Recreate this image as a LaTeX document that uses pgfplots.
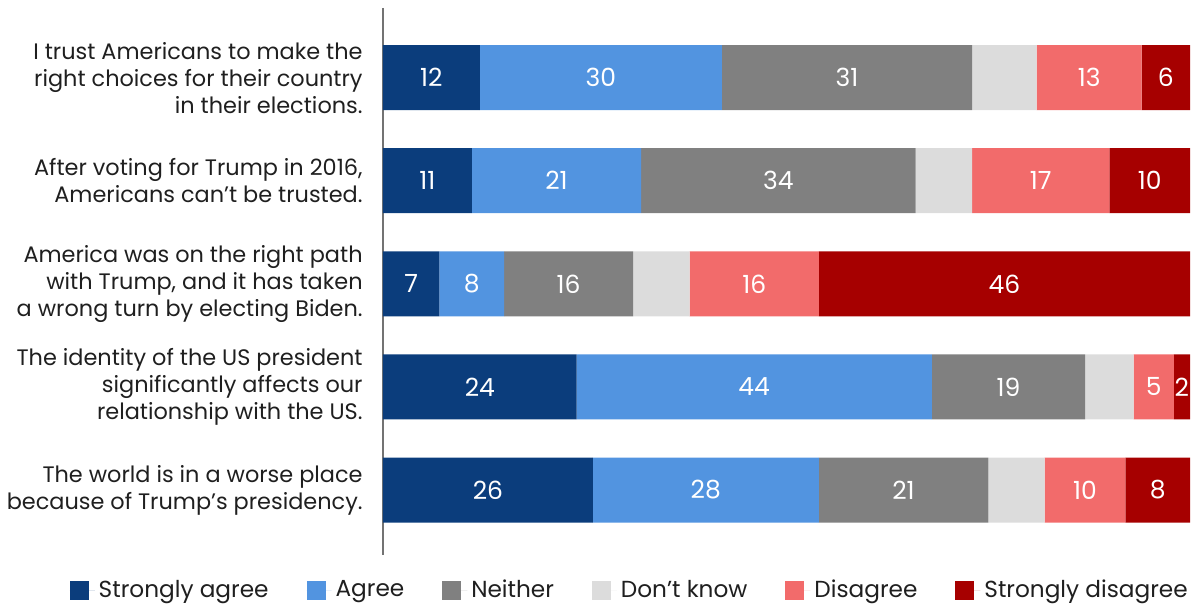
\documentclass[border=0pt]{standalone}
\usepackage{fontspec}
\setmainfont{Poppins}
\usepackage{pgfplots}
\pgfplotsset{compat=1.18}
\definecolor{sa}{HTML}{0B3D7C}
\definecolor{ag}{HTML}{5294E0}
\definecolor{ne}{HTML}{808080}
\definecolor{dk}{HTML}{DCDCDC}
\definecolor{di}{HTML}{F26B6B}
\definecolor{sd}{HTML}{A60000}
\begin{document}
\begin{tikzpicture}
\useasboundingbox (-191.5bp,-25.5bp) rectangle (407.5bp,277.5bp);
\begin{axis}[
  scale only axis, width=403.5bp, height=273.5bp,
  xbar stacked, bar width=32.5bp,
  xmin=0, xmax=100,
  ymin=-0.675, ymax=4.63, y dir=reverse,
  ytick={0,1,2,3,4},
  yticklabels={
    {I trust Americans to make the\\right choices for their country\\in their elections.},
    {After voting for Trump in 2016,\\Americans can’t be trusted.},
    {America was on the right path\\with Trump, and it has taken\\a wrong turn by electing Biden.},
    {The identity of the US president\\significantly affects our\\relationship with the US.},
    {The world is in a worse place\\because of Trump’s presidency.}},
  yticklabel style={align=right, font=\fontsize{11.2bp}{13.5bp}\selectfont, inner sep=0pt, xshift=-10bp, text=black!88},
  major tick length=0pt,
  hide x axis,
  axis y line*=left,
  y axis line style={draw=black!55, line width=1bp},
  clip=false,
  legend style={draw=none, at={(0.307,-0.064)}, anchor=center, legend columns=6,
    font=\fontsize{11.6bp}{14bp}\selectfont, text=black!88,
    /tikz/every even column/.append style={column sep=17bp}},
  legend cell align=left,
  legend image code/.code={\fill[#1] (0bp,-4.75bp) rectangle (9.5bp,4.75bp); \path (0bp,0bp) -- (12.5bp,0bp);},
  visualization depends on=rawx\as\rawx,
  lbl/.style={nodes near coords={\pgfmathprintnumber[assume math mode=true]{\rawx}},
    every node near coord/.append style={anchor=center, text=white,
      font=\fontsize{12.5bp}{14bp}\selectfont}},
]
\addplot[fill=sa, draw=none, lbl] coordinates {(12,0) (11,1) (7,2) (24,3) (26,4)};
\addplot[fill=ag, draw=none, lbl] coordinates {(30,0) (21,1) (8,2) (44,3) (28,4)};
\addplot[fill=ne, draw=none, lbl] coordinates {(31,0) (34,1) (16,2) (19,3) (21,4)};
\addplot[fill=dk, draw=none] coordinates {(8,0) (7,1) (7,2) (6,3) (7,4)};
\addplot[fill=di, draw=none, lbl] coordinates {(13,0) (17,1) (16,2) (5,3) (10,4)};
\addplot[fill=sd, draw=none, lbl] coordinates {(6,0) (10,1) (46,2) (2,3) (8,4)};
\legend{Strongly agree, Agree, Neither, Don’t know, Disagree, Strongly disagree}
\end{axis}
\end{tikzpicture}
\end{document}
